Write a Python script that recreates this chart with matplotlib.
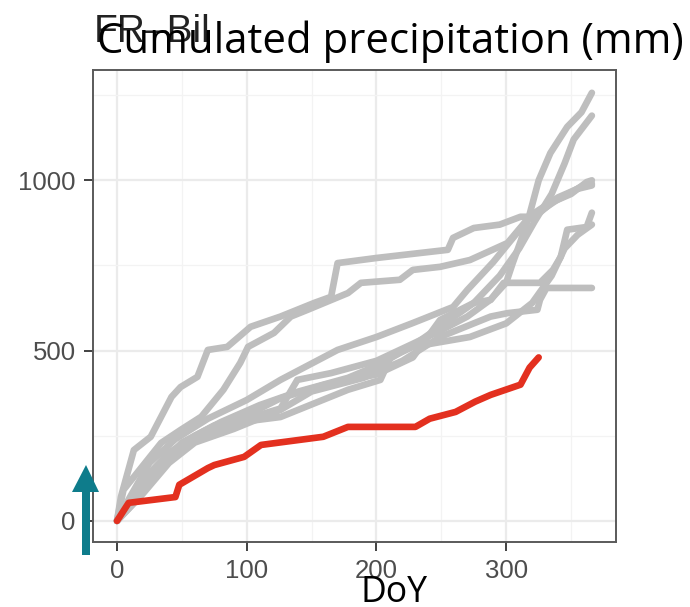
import matplotlib
matplotlib.use('Agg')
import matplotlib.pyplot as plt
from matplotlib.patches import Polygon
from matplotlib.ticker import MultipleLocator

# ---------------- data ----------------
site = 'FR–Bil'
title_text = 'Cumulated precipitation (mm)'
x_label = 'DoY'
x_ticks = [0, 100, 200, 300]
y_ticks = [0, 500, 1000]

g1_doy = [0, 3, 13, 26, 42, 49, 62, 70, 85, 103, 126, 152, 165, 170, 200, 255, 259, 275, 295, 311, 322, 336, 350, 362, 366]
g1_mm = [0, 70, 208, 247, 364, 393, 423, 502, 511, 570, 600, 640, 658, 757, 772, 796, 831, 860, 870, 893, 893, 937, 960, 995, 1000]

g2_doy = [0, 5, 34, 49, 65, 82, 95, 101, 121, 134, 147, 178, 188, 218, 228, 249, 272, 301, 316, 339, 357, 366]
g2_mm = [0, 91, 229, 267, 306, 385, 464, 511, 552, 600, 620, 669, 699, 708, 737, 746, 766, 816, 884, 942, 980, 990]

b1_doy = [0, 8, 20, 35, 50, 70, 100, 126, 139, 165, 200, 228, 250, 270, 288, 300, 305, 311, 318, 325, 334, 347, 358, 366]
b1_mm = [0, 40, 120, 170, 220, 260, 300, 330, 414, 434, 470, 520, 560, 600, 650, 700, 757, 820, 900, 1000, 1080, 1157, 1200, 1257]

b2_doy = [0, 10, 25, 40, 60, 80, 110, 140, 178, 203, 230, 260, 275, 295, 310, 322, 335, 345, 352, 366]
b2_mm = [0, 50, 140, 200, 250, 290, 340, 380, 420, 460, 520, 600, 640, 720, 800, 880, 960, 1050, 1120, 1190]

b3_doy = [0, 15, 30, 50, 75, 100, 126, 160, 200, 228, 249, 275, 288, 298, 326, 336, 342, 347, 362, 366]
b3_mm = [0, 60, 150, 230, 280, 310, 360, 400, 430, 480, 590, 640, 649, 699, 699, 737, 775, 855, 863, 905]

b4_doy = [0, 12, 28, 45, 65, 95, 126, 178, 203, 211, 228, 272, 300, 320, 335, 345, 355, 366]
b4_mm = [0, 50, 130, 200, 250, 290, 305, 385, 414, 481, 511, 540, 580, 640, 720, 800, 840, 870]

b5_doy = [0, 20, 40, 60, 90, 126, 150, 190, 220, 249, 288, 301, 324, 326, 331, 366]
b5_mm = [0, 80, 170, 230, 270, 326, 380, 420, 470, 540, 600, 610, 620, 649, 684, 684]

b6_doy = [0, 10, 25, 45, 70, 100, 126, 170, 200, 228, 259, 270, 290, 305, 320, 340, 355, 366]
b6_mm = [0, 70, 170, 240, 300, 355, 414, 502, 540, 581, 628, 678, 760, 830, 900, 950, 975, 985]

red_doy = [0, 9, 45, 48, 70, 75, 98, 111, 159, 178, 230, 241, 261, 276, 288, 311, 318, 325]
red_mm = [0, 53, 70, 106, 155, 164, 188, 223, 247, 276, 276, 300, 320, 350, 370, 400, 450, 480]

gray_series = [(g1_doy, g1_mm), (g2_doy, g2_mm), (b1_doy, b1_mm), (b2_doy, b2_mm),
               (b3_doy, b3_mm), (b4_doy, b4_mm), (b5_doy, b5_mm), (b6_doy, b6_mm)]

# ---------------- figure ----------------
W, H = 690, 607
fig = plt.figure(figsize=(W / 100, H / 100), dpi=100)
fig.patch.set_facecolor('white')
ax = fig.add_axes([93 / W, 1 - 542 / H, (616 - 93) / W, (542 - 70) / H])

for xs, ys in gray_series:
    ax.plot(xs, ys, color='#BEBEBE', lw=4.8, solid_capstyle='round', solid_joinstyle='round', zorder=2)
ax.plot(red_doy, red_mm, color='#E3301F', lw=4.8, solid_capstyle='round', solid_joinstyle='round', zorder=3)

ax.set_xlim(-18.5, 384.6)
ax.set_ylim(-62, 1324)
ax.set_xticks(x_ticks)
ax.set_yticks(y_ticks)
ax.xaxis.set_minor_locator(MultipleLocator(50))
ax.yaxis.set_minor_locator(MultipleLocator(250))
ax.set_axisbelow(True)
ax.grid(which='major', color='#EBEBEB', lw=1.6)
ax.grid(which='minor', color='#F3F3F3', lw=0.9)
ax.tick_params(which='major', length=6.5, width=1.3, color='#333333', labelsize=18.5,
               labelcolor='#4D4D4D', pad=6)
ax.tick_params(which='minor', length=0)
for lab in ax.get_xticklabels() + ax.get_yticklabels():
    lab.set_family('Liberation Sans')
for sp in ax.spines.values():
    sp.set_color('#5a5a5a')
    sp.set_linewidth(1.4)

# site title (partly covered)
fig.text(94 / W, 1 - 42 / H, site, fontsize=28, family='Liberation Sans', color='#222222',
         va='baseline', ha='left', zorder=1)

# overlaid axis texts
t = fig.text(97 / W, 1 - 53 / H, title_text, fontsize=30, family='Open Sans', color='black',
             va='baseline', ha='left', zorder=5)
d = fig.text(361 / W, 1 - 602 / H, x_label, fontsize=30, family='Open Sans', color='black',
             va='baseline', ha='left', zorder=5)
fig.canvas.draw()
r = fig.canvas.get_renderer()
t.set_fontsize(30 * 586 / t.get_window_extent(r).width)
d.set_fontsize(30 * 67 / d.get_window_extent(r).width)

# teal arrow (pixel geometry converted to figure fraction)
arrow_px = [(82, 555), (90, 555), (90, 492), (99, 492), (86, 465), (72, 492), (82, 492)]
arrow = Polygon([(x / W, 1 - y / H) for x, y in arrow_px], closed=True,
                transform=fig.transFigure, facecolor='#0E7C8B', edgecolor='none', zorder=6)
fig.patches.append(arrow)

fig.savefig('out.png', dpi=100)
